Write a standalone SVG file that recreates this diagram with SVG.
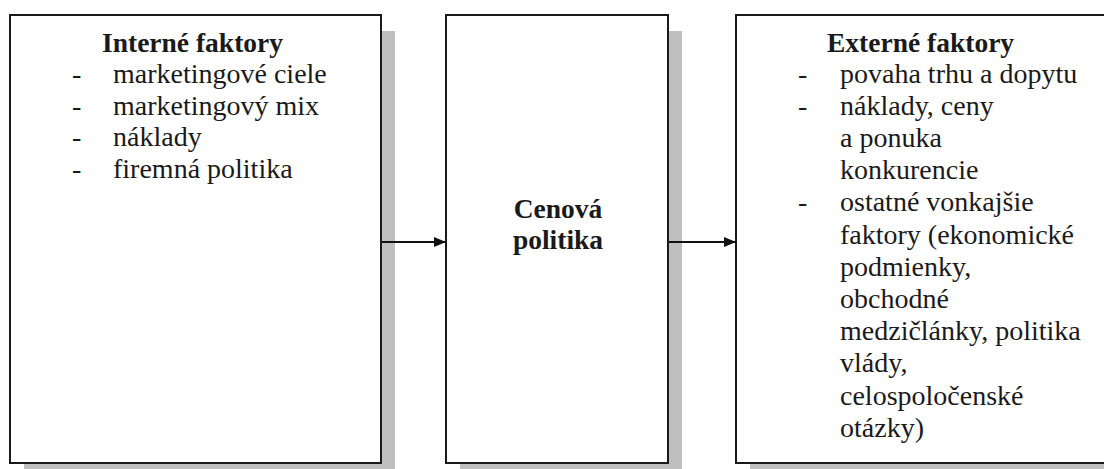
<svg xmlns="http://www.w3.org/2000/svg" width="1104" height="469" viewBox="0 0 1104 469">
<style>
.shadow{fill:#bfbfbf}
.box{fill:#fff;stroke:#1a1a1a;stroke-width:2}
text{font-family:'Liberation Serif','Times New Roman',serif;font-size:28px;fill:#1a1a1a}
.b{font-weight:bold;font-size:27.5px}
.c{text-anchor:middle}
.conn{stroke:#111;stroke-width:2;fill:none}
</style>
<defs>
<marker id="arr" viewBox="0 0 12 10" refX="12" refY="5" markerWidth="12" markerHeight="10" markerUnits="userSpaceOnUse" orient="auto">
<path d="M0,0 L12,5 L0,10 Z" fill="#111"/>
</marker>
</defs>
<rect width="1104" height="469" fill="#fff"/>
<g id="interne">
<rect class="shadow" x="24" y="31" width="371" height="448"/>
<rect class="box" x="10" y="15" width="371" height="448"/>
<text class="b" x="102" y="52">Interné faktory</text>
<text x="72" y="83">-</text><text x="113" y="83">marketingové ciele</text>
<text x="72" y="114.5">-</text><text x="113" y="114.5">marketingový mix</text>
<text x="72" y="146">-</text><text x="113" y="146">náklady</text>
<text x="72" y="177.5">-</text><text x="113" y="177.5">firemná politika</text>
</g>
<g id="cenova">
<rect class="shadow" x="460" y="31" width="222" height="448"/>
<rect class="box" x="446" y="15" width="222" height="448"/>
<text class="b c" x="558" y="218">Cenová</text>
<text class="b c" x="558" y="249">politika</text>
</g>
<g id="externe">
<rect class="shadow" x="750" y="31" width="380" height="448"/>
<rect class="box" x="736" y="15" width="380" height="448"/>
<text class="b" x="827" y="52">Externé faktory</text>
<text x="798" y="83">-</text><text x="840" y="83">povaha trhu a dopytu</text>
<text x="798" y="115">-</text><text x="840" y="115">náklady, ceny</text>
<text x="840" y="147">a ponuka</text>
<text x="840" y="179">konkurencie</text>
<text x="798" y="211">-</text><text x="840" y="211">ostatné vonkajšie</text>
<text x="840" y="244">faktory (ekonomické</text>
<text x="840" y="276">podmienky,</text>
<text x="840" y="308">obchodné</text>
<text x="840" y="340">medzičlánky, politika</text>
<text x="840" y="372">vlády,</text>
<text x="840" y="405">celospoločenské</text>
<text x="840" y="437">otázky)</text>
</g>
<g id="connectors">
<line class="conn" x1="382" y1="242" x2="446" y2="242" marker-end="url(#arr)"/>
<line class="conn" x1="669" y1="242" x2="736" y2="242" marker-end="url(#arr)"/>
</g>
</svg>
